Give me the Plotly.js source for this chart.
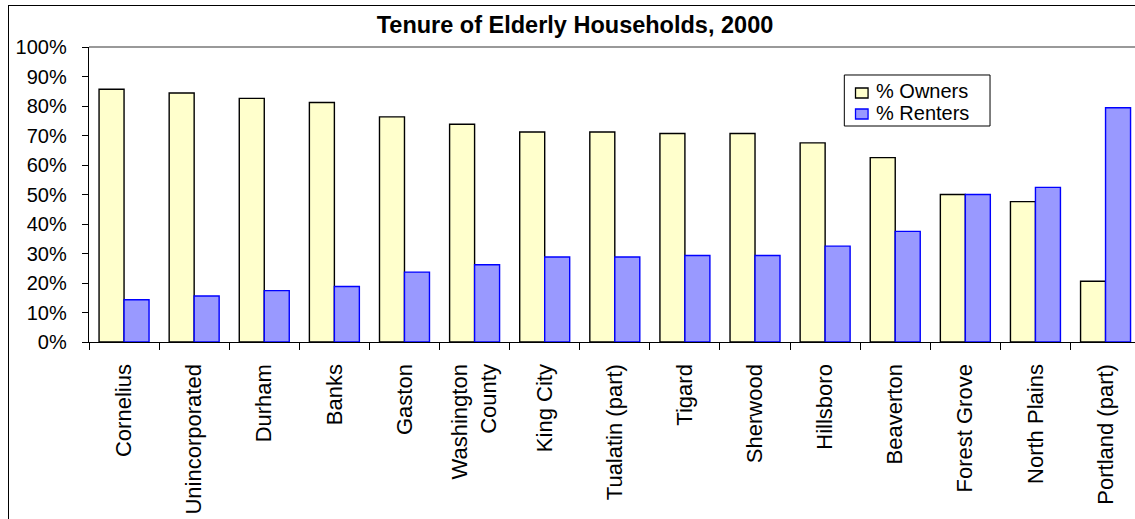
<!DOCTYPE html>
<html>
<head>
<meta charset="utf-8">
<script src="https://cdn.plot.ly/plotly-3.0.1.min.js"></script>
<style>
  html, body { margin: 0; padding: 0; background: #fff; overflow: hidden; }
  #wrap { position: relative; width: 1135px; height: 519px; overflow: hidden; }
  #chart { position: absolute; left: 0; top: 0; width: 1135px; height: 519px; }
  #frame { position: absolute; left: 7.5px; top: 4.5px; width: 1300px; height: 700px;
           border: 1.5px solid #000; pointer-events: none; }
</style>
</head>
<body>
<div id="wrap">
  <div id="chart"></div>
  <div id="frame"></div>
</div>
<script>
const categories = ["Cornelius", "Unincorporated", "Durham", "Banks", "Gaston",
  "Washington<br>County", "King City", "Tualatin (part)", "Tigard", "Sherwood",
  "Hillsboro", "Beaverton", "Forest Grove", "North Plains", "Portland (part)"];
const ownersPct  = [85.7, 84.4, 82.6, 81.2, 76.3, 73.8, 71.2, 71.2, 70.7, 70.7, 67.5, 62.5, 50.0, 47.6, 20.6];
const rentersPct = [14.3, 15.6, 17.4, 18.8, 23.7, 26.2, 28.8, 28.8, 29.3, 29.3, 32.5, 37.5, 50.0, 52.4, 79.4];
const seriesNames = ["% Owners", "% Renters"];
const seriesFill = ["#FFFFCC", "#9999FF"];
const seriesEdge = ["#000000", "#0000FF"];
const titleText = "Tenure of Elderly Households, 2000";

const FONT = "Liberation Sans, Arial, Helvetica, sans-serif";

const traces = [
  {
    type: "bar", name: seriesNames[0], x: categories, y: ownersPct,
    marker: { color: seriesFill[0], line: { color: seriesEdge[0], width: 1.4 } },
    showlegend: false
  },
  {
    type: "bar", name: seriesNames[1], x: categories, y: rentersPct,
    marker: { color: seriesFill[1], line: { color: seriesEdge[1], width: 1.4 } },
    showlegend: false
  }
];

// Compact Excel-style legend drawn as paper-referenced decoration
const LEG = { x0: 0.7221, x1: 0.8614, y0: 0.7322, y1: 0.9051 };
const swatchY = [[0.8271, 0.8610], [0.7559, 0.7898]];
const textY = [0.8524, 0.7756];
const legendShapes = [
  { type: "rect", xref: "paper", yref: "paper", x0: LEG.x0, x1: LEG.x1, y0: LEG.y0, y1: LEG.y1,
    fillcolor: "#ffffff", line: { color: "#000", width: 1 }, layer: "above" }
];
const legendAnn = [];
seriesNames.forEach((nm, i) => {
  legendShapes.push({ type: "rect", xref: "paper", yref: "paper",
    x0: 0.7328, x1: 0.7448, y0: swatchY[i][0], y1: swatchY[i][1],
    fillcolor: seriesFill[i], line: { color: seriesEdge[i], width: 1.3 }, layer: "above" });
  legendAnn.push({ xref: "paper", yref: "paper", x: 0.7515, y: textY[i],
    xanchor: "left", yanchor: "middle", showarrow: false, text: nm, borderpad: 0,
    font: { family: FONT, size: 20, color: "#000" } });
});

const layout = {
  width: 1135, height: 519,
  margin: { l: 89, r: 0, t: 47, b: 177, pad: 0 },
  paper_bgcolor: "rgba(0,0,0,0)",
  plot_bgcolor: "#ffffff",
  font: { family: FONT, color: "#000" },
  title: {
    text: "<b>" + titleText + "</b>",
    font: { family: FONT, size: 23.5, color: "#000" },
    xref: "container", x: 0.5066, xanchor: "center",
    yref: "container", y: 0.952, yanchor: "middle"
  },
  barmode: "group",
  bargap: 0.287,
  bargroupgap: 0,
  showlegend: false,
  xaxis: {
    type: "category",
    range: [-0.5, 14.42],
    tickson: "boundaries",
    ticks: "outside", ticklen: 7, tickcolor: "#000", tickwidth: 1,
    showline: true, linecolor: "#000", linewidth: 1.3,
    showgrid: false, zeroline: false,
    tickangle: -90,
    ticklabelstandoff: 12,
    tickfont: { family: FONT, size: 22, color: "#000" },
    fixedrange: true
  },
  yaxis: {
    range: [0, 100],
    dtick: 10, tick0: 0,
    ticksuffix: "%",
    ticks: "outside", ticklen: 6, tickcolor: "#000", tickwidth: 1,
    showline: true, linecolor: "#000", linewidth: 1.3,
    showgrid: false, zeroline: false,
    ticklabelstandoff: 11,
    tickfont: { family: FONT, size: 20, color: "#000" },
    fixedrange: true
  },
  shapes: [
    { type: "line", xref: "paper", yref: "paper", x0: 0, x1: 1, y0: 1, y1: 1,
      line: { color: "#999999", width: 2 }, layer: "below" }
  ].concat(legendShapes),
  annotations: legendAnn
};

Plotly.newPlot("chart", traces, layout, { displayModeBar: false, staticPlot: true });
</script>
</body>
</html>
